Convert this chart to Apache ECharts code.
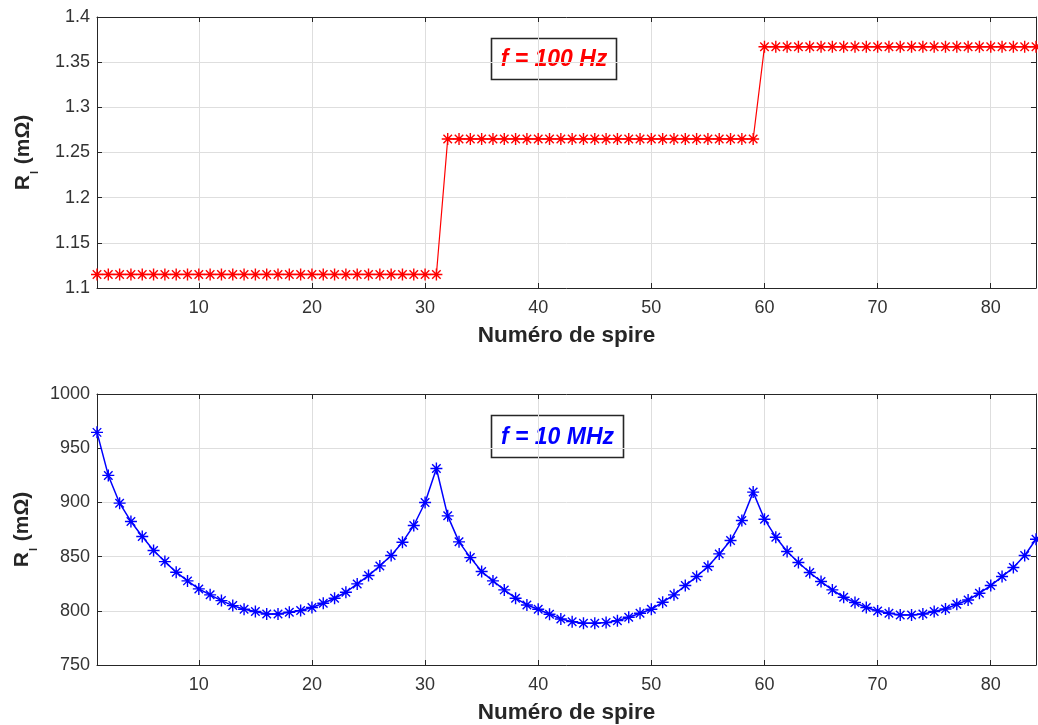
<!DOCTYPE html>
<html>
<head>
<meta charset="utf-8">
<script src="https://cdn.jsdelivr.net/npm/echarts@6/dist/echarts.min.js"></script>
<style>html,body{margin:0;padding:0;background:#fff}#c{width:1038px;height:725px}</style>
</head>
<body>
<div id="c"></div>
<script>
// ---- data ----
const xTickValues = [10, 20, 30, 40, 50, 60, 70, 80];
const xRange = [1, 84];
const yRangeTop = [1.1, 1.4];
const yStepTop = 0.05;
const yRangeBottom = [750, 1000];
const yStepBottom = 50;
const xTitle = 'Numéro de spire';
const labelTop = 'f = 100 Hz';
const labelBottom = 'f = 10 MHz';

// R_l at f = 100 Hz (mΩ), turns 1..84
const r100Hz = [
  1.115,1.115,1.115,1.115,1.115,1.115,1.115,1.115,1.115,1.115,
  1.115,1.115,1.115,1.115,1.115,1.115,1.115,1.115,1.115,1.115,
  1.115,1.115,1.115,1.115,1.115,1.115,1.115,1.115,1.115,1.115,
  1.115,1.265,1.265,1.265,1.265,1.265,1.265,1.265,1.265,1.265,
  1.265,1.265,1.265,1.265,1.265,1.265,1.265,1.265,1.265,1.265,
  1.265,1.265,1.265,1.265,1.265,1.265,1.265,1.265,1.265,1.367,
  1.367,1.367,1.367,1.367,1.367,1.367,1.367,1.367,1.367,1.367,
  1.367,1.367,1.367,1.367,1.367,1.367,1.367,1.367,1.367,1.367,
  1.367,1.367,1.367,1.367
];
// R_l at f = 10 MHz (mΩ), turns 1..84
const r10MHz = [
  964.6,924.9,899.3,882.4,868.5,855.6,845.4,835.6,827.6,820.2,
  814.7,809.4,804.8,801.4,799.3,797.1,797.1,798.6,800.2,803.0,
  807.0,811.6,817.1,824.8,832.5,841.4,851.0,863.3,878.7,899.9,
  931.3,887.6,863.6,849.1,836.2,827.6,819.3,811.6,805.4,801.4,
  796.8,792.5,790.0,788.5,788.5,789.1,790.9,794.0,797.7,801.4,
  807.9,814.7,823.3,831.6,840.8,852.5,864.8,883.3,909.5,884.5,
  867.9,854.7,844.5,835.3,827.0,819.3,812.5,807.6,803.0,799.9,
  797.7,796.2,796.2,797.1,799.3,801.7,806.0,810.0,816.2,823.3,
  831.6,839.9,851.0,866.0
];

// ---- chart ----
const FONT = '"Liberation Sans", Arial, Helvetica, sans-serif';
const AX = '#262626';
const LBL = '#333333';
const GRIDC = '#dedede';
const star = 'path://M0,5L10,5M5,0L5,10M1.46,1.46L8.54,8.54M8.54,1.46L1.46,8.54';

const yName = '{a|R}{b|l}{a| (mΩ)}';
const yNameStyle = {
  rich: {
    a: {fontFamily: FONT, fontSize: 21, fontWeight: 'bold', color: AX, verticalAlign: 'top', lineHeight: 24},
    b: {fontFamily: FONT, fontSize: 11, fontWeight: 'bold', color: AX, verticalAlign: 'top', lineHeight: 10, padding: [16, 1, 0, 1]}
  }
};

function toPairs(vals) { return vals.map((v, i) => [i + 1, v]); }

function axesFor(g, yr, ys) {
  const common = {gridIndex: g, axisLine: {show: true, lineStyle: {color: AX, width: 1}}};
  const xb = Object.assign({}, common, {
    type: 'value', position: 'bottom', min: xRange[0], max: xRange[1],
    name: xTitle, nameLocation: 'middle', nameGap: 36,
    nameTextStyle: {fontFamily: FONT, fontSize: 22.5, fontWeight: 'bold', color: AX},
    axisTick: {show: true, inside: true, length: 5, lineStyle: {color: AX}, customValues: xTickValues},
    axisLabel: {show: true, fontFamily: FONT, fontSize: 18, color: LBL, margin: 11, customValues: xTickValues},
    splitLine: {show: true, lineStyle: {color: GRIDC, width: 1}}
  });
  const xt = Object.assign({}, common, {
    type: 'value', position: 'top', min: xRange[0], max: xRange[1],
    axisTick: {show: true, inside: true, length: 5, lineStyle: {color: AX}, customValues: xTickValues},
    axisLabel: {show: false, customValues: xTickValues},
    splitLine: {show: false}
  });
  const yl = Object.assign({}, common, {
    type: 'value', position: 'left', min: yr[0], max: yr[1], interval: ys,
    name: yName, nameLocation: 'middle', nameGap: 60, nameRotate: 90,
    nameTextStyle: yNameStyle,
    axisTick: {show: true, inside: true, length: 5, lineStyle: {color: AX}},
    axisLabel: {show: true, fontFamily: FONT, fontSize: 18, color: LBL, margin: 7,
      formatter: v => String(Math.round(v * 1000) / 1000)},
    splitLine: {show: true, lineStyle: {color: GRIDC, width: 1}}
  });
  const yr2 = Object.assign({}, common, {
    type: 'value', position: 'right', min: yr[0], max: yr[1], interval: ys,
    axisTick: {show: true, inside: true, length: 5, lineStyle: {color: AX}},
    axisLabel: {show: false},
    splitLine: {show: false}
  });
  return {x: [xb, xt], y: [yl, yr2]};
}

const a0 = axesFor(0, yRangeTop, yStepTop);
const a1 = axesFor(1, yRangeBottom, yStepBottom);

function labelBox(x, y, w, h, text, color) {
  return {
    type: 'group', left: x, top: y, z: 100,
    children: [
      {type: 'rect', shape: {x: 0, y: 0, width: w, height: h}, style: {fill: 'none', stroke: AX, lineWidth: 1.6}},
      {type: 'text', x: w / 2, y: h / 2 + 1, style: {text: text, fill: color, font: 'italic bold 23px ' + FONT, align: 'center', verticalAlign: 'middle'}}
    ]
  };
}

const option = {
  backgroundColor: '#fff',
  animation: false,
  grid: [
    {left: 97, right: 2, top: 17, height: 271, containLabel: false},
    {left: 97, right: 2, top: 394, height: 271, containLabel: false}
  ],
  xAxis: [a0.x[0], a0.x[1], a1.x[0], a1.x[1]],
  yAxis: [a0.y[0], a0.y[1], a1.y[0], a1.y[1]],
  series: [
    {
      type: 'line', xAxisIndex: 0, yAxisIndex: 0, data: toPairs(r100Hz),
      symbol: star, symbolSize: 12, showAllSymbol: true, clip: false,
      lineStyle: {color: '#ff0000', width: 1.2},
      itemStyle: {color: 'rgba(0,0,0,0)', borderColor: '#ff0000', borderWidth: 1.4}
    },
    {
      type: 'line', xAxisIndex: 2, yAxisIndex: 2, data: toPairs(r10MHz),
      symbol: star, symbolSize: 12, showAllSymbol: true, clip: false,
      lineStyle: {color: '#0000ff', width: 1.5},
      itemStyle: {color: 'rgba(0,0,0,0)', borderColor: '#0000ff', borderWidth: 1.4}
    }
  ],
  graphic: [
    labelBox(489, 36, 125, 41, labelTop, '#ff0000'),
    labelBox(489, 413, 132, 42, labelBottom, '#0000ff')
  ]
};

const chart = echarts.init(document.getElementById('c'), null, {renderer: 'canvas'});
chart.setOption(option);
</script>
</body>
</html>
